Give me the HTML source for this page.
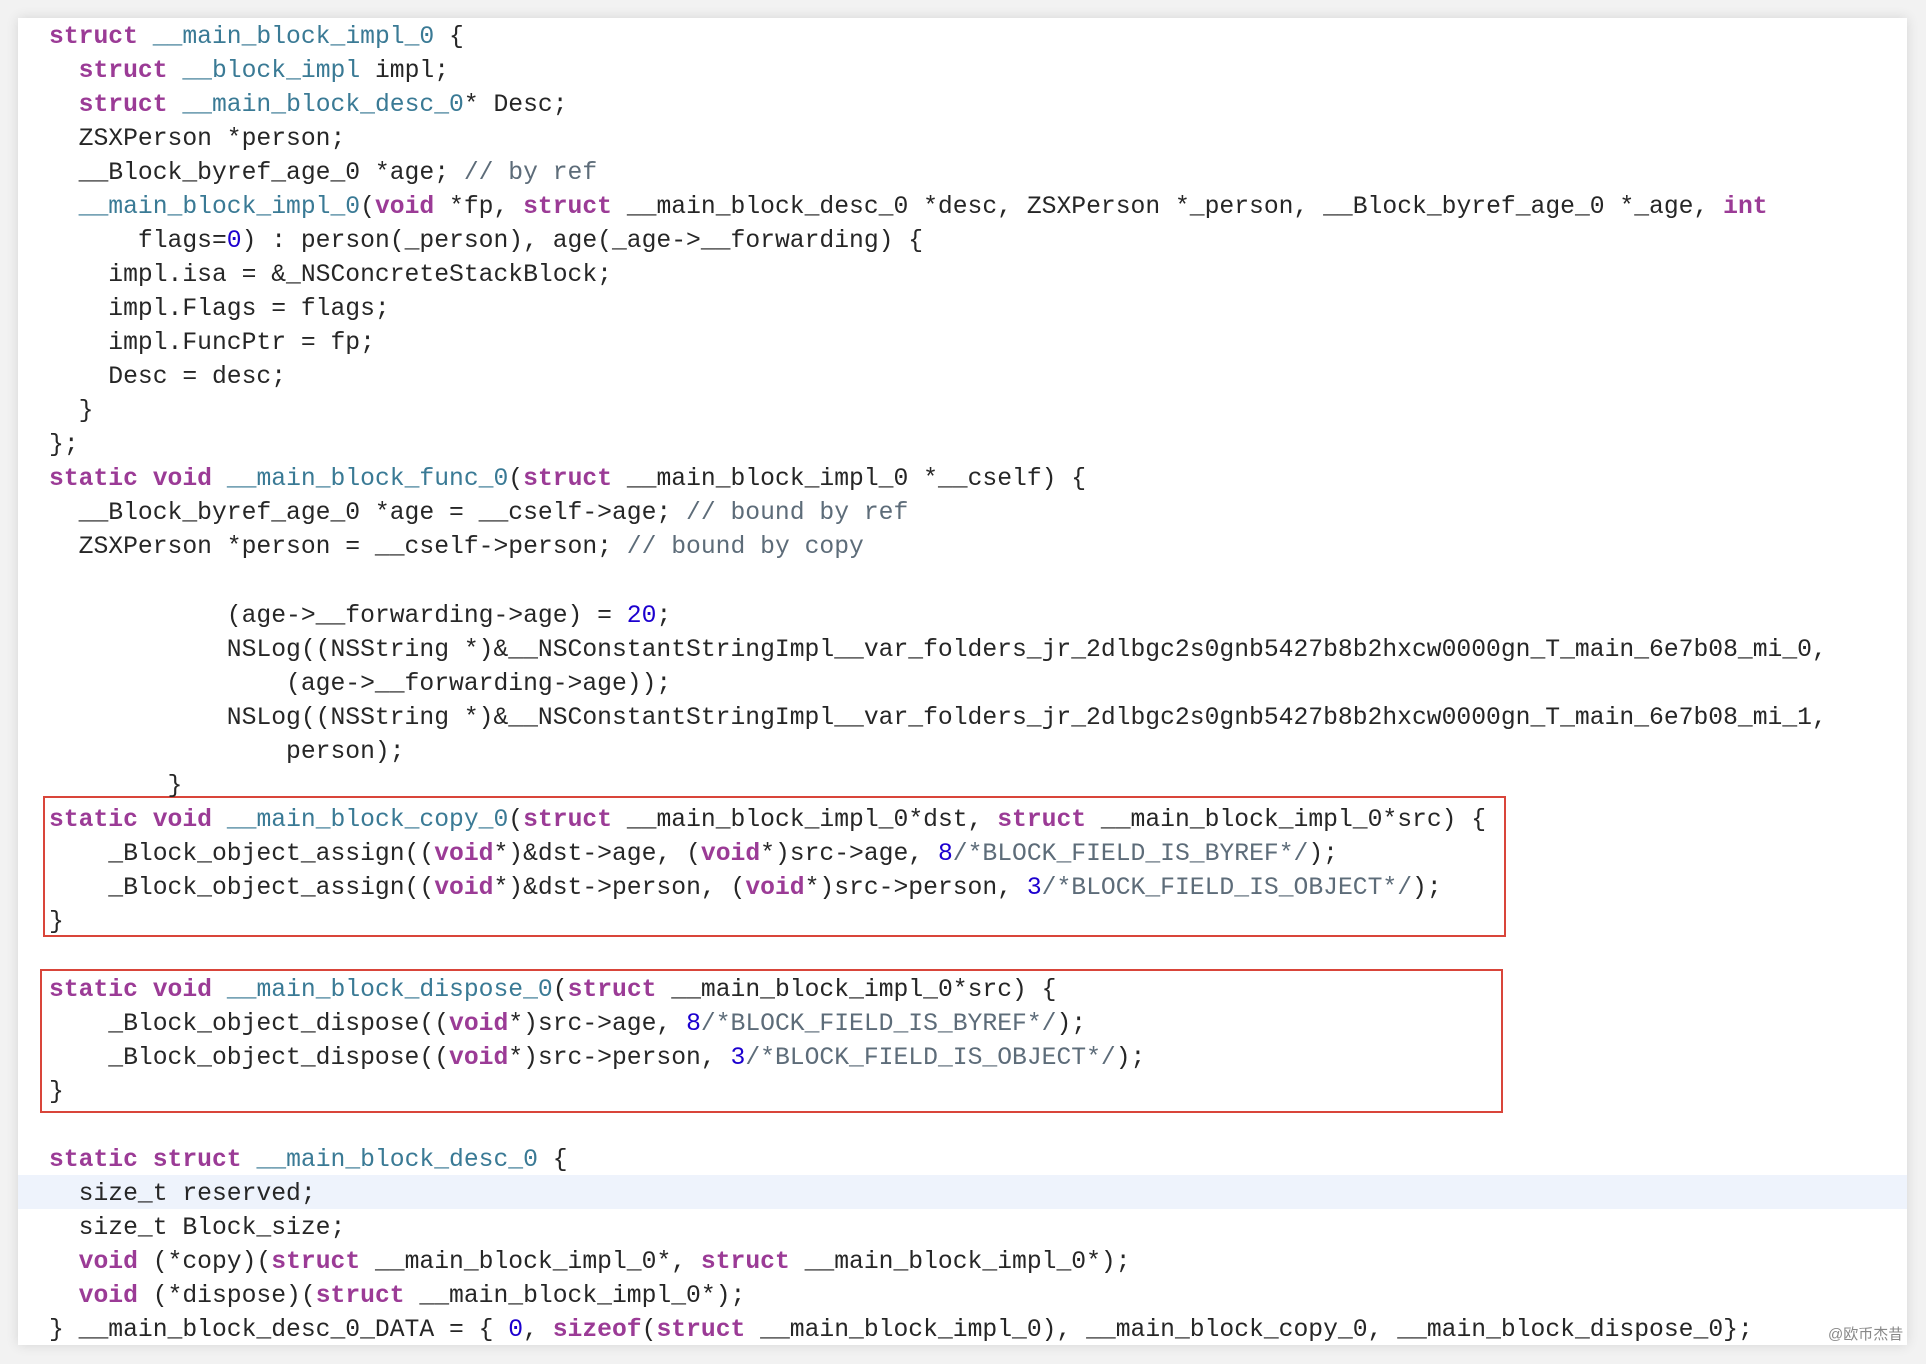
<!DOCTYPE html>
<html><head><meta charset="utf-8"><style>
html,body{margin:0;padding:0;background:#f2f2f2;width:1926px;height:1364px;overflow:hidden;}
#panel{position:absolute;left:18px;top:18px;width:1889px;height:1327px;background:#fff;box-shadow:0 0 12px rgba(0,0,0,0.12);}
#hl{position:absolute;left:18px;top:1175px;width:1889px;height:34px;background:#eef3fc;}
pre{position:absolute;left:49px;top:20px;margin:0;font-family:"Liberation Mono",monospace;font-size:24.7px;line-height:34.03px;color:#262626;}
.k{color:#9b3b96;font-weight:bold}
.t{color:#3a7a95}
.c{color:#5d6c79}
.n{color:#1c00cf}
.box{position:absolute;border:2px solid #d9453a;}
#wm{position:absolute;left:1828px;top:1323px;font-family:"Liberation Sans","Noto Sans CJK SC",sans-serif;font-size:15px;color:#888;}
</style></head><body>
<div id="panel"></div>
<div id="hl"></div>
<div class="box" style="left:43px;top:796px;width:1459px;height:137px"></div>
<div class="box" style="left:40px;top:969px;width:1459px;height:140px"></div>
<pre><span class="k">struct</span> <span class="t">__main_block_impl_0</span> {
  <span class="k">struct</span> <span class="t">__block_impl</span> impl;
  <span class="k">struct</span> <span class="t">__main_block_desc_0</span>* Desc;
  ZSXPerson *person;
  __Block_byref_age_0 *age; <span class="c">// by ref</span>
  <span class="t">__main_block_impl_0</span>(<span class="k">void</span> *fp, <span class="k">struct</span> __main_block_desc_0 *desc, ZSXPerson *_person, __Block_byref_age_0 *_age, <span class="k">int</span>
      flags=<span class="n">0</span>) : person(_person), age(_age-&gt;__forwarding) {
    impl.isa = &amp;_NSConcreteStackBlock;
    impl.Flags = flags;
    impl.FuncPtr = fp;
    Desc = desc;
  }
};
<span class="k">static</span> <span class="k">void</span> <span class="t">__main_block_func_0</span>(<span class="k">struct</span> __main_block_impl_0 *__cself) {
  __Block_byref_age_0 *age = __cself-&gt;age; <span class="c">// bound by ref</span>
  ZSXPerson *person = __cself-&gt;person; <span class="c">// bound by copy</span>

            (age-&gt;__forwarding-&gt;age) = <span class="n">20</span>;
            NSLog((NSString *)&amp;__NSConstantStringImpl__var_folders_jr_2dlbgc2s0gnb5427b8b2hxcw0000gn_T_main_6e7b08_mi_0,
                (age-&gt;__forwarding-&gt;age));
            NSLog((NSString *)&amp;__NSConstantStringImpl__var_folders_jr_2dlbgc2s0gnb5427b8b2hxcw0000gn_T_main_6e7b08_mi_1,
                person);
        }
<span class="k">static</span> <span class="k">void</span> <span class="t">__main_block_copy_0</span>(<span class="k">struct</span> __main_block_impl_0*dst, <span class="k">struct</span> __main_block_impl_0*src) {
    _Block_object_assign((<span class="k">void</span>*)&amp;dst-&gt;age, (<span class="k">void</span>*)src-&gt;age, <span class="n">8</span><span class="c">/*BLOCK_FIELD_IS_BYREF*/</span>);
    _Block_object_assign((<span class="k">void</span>*)&amp;dst-&gt;person, (<span class="k">void</span>*)src-&gt;person, <span class="n">3</span><span class="c">/*BLOCK_FIELD_IS_OBJECT*/</span>);
}

<span class="k">static</span> <span class="k">void</span> <span class="t">__main_block_dispose_0</span>(<span class="k">struct</span> __main_block_impl_0*src) {
    _Block_object_dispose((<span class="k">void</span>*)src-&gt;age, <span class="n">8</span><span class="c">/*BLOCK_FIELD_IS_BYREF*/</span>);
    _Block_object_dispose((<span class="k">void</span>*)src-&gt;person, <span class="n">3</span><span class="c">/*BLOCK_FIELD_IS_OBJECT*/</span>);
}

<span class="k">static</span> <span class="k">struct</span> <span class="t">__main_block_desc_0</span> {
  size_t reserved;
  size_t Block_size;
  <span class="k">void</span> (*copy)(<span class="k">struct</span> __main_block_impl_0*, <span class="k">struct</span> __main_block_impl_0*);
  <span class="k">void</span> (*dispose)(<span class="k">struct</span> __main_block_impl_0*);
} __main_block_desc_0_DATA = { <span class="n">0</span>, <span class="k">sizeof</span>(<span class="k">struct</span> __main_block_impl_0), __main_block_copy_0, __main_block_dispose_0};</pre>
<div id="wm">@欧币杰昔</div>
</body></html>
